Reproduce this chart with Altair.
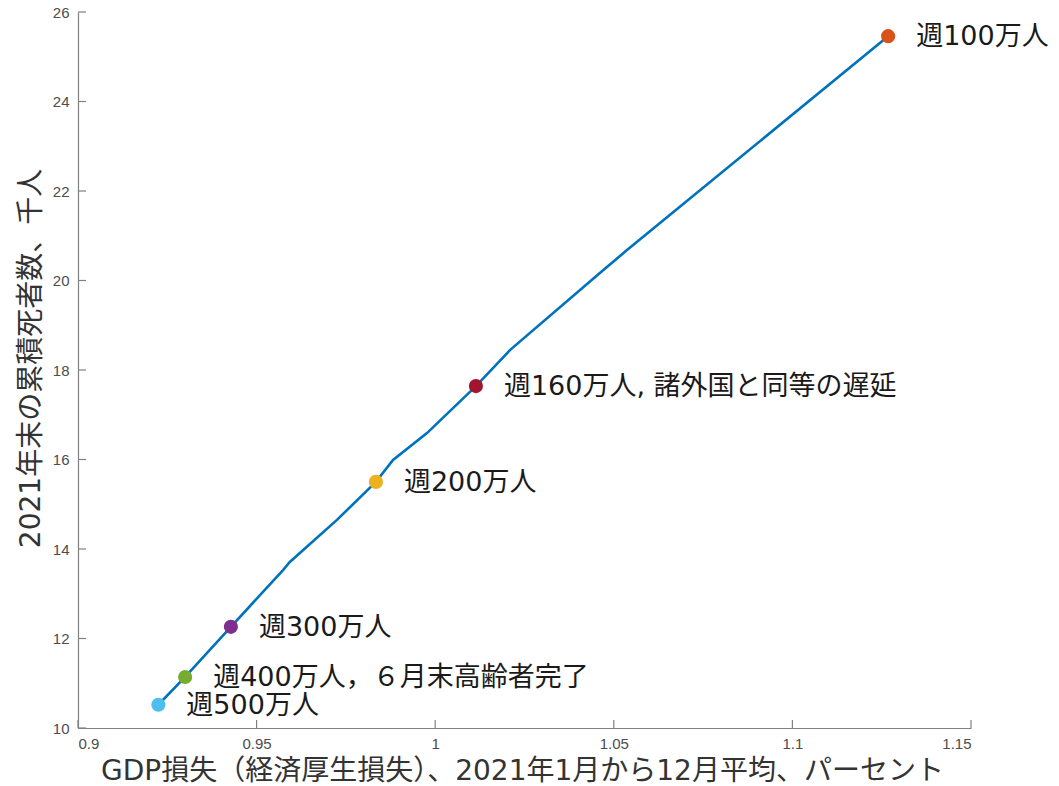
import altair as alt
import pandas as pd

# curve (GDP loss %, cumulative deaths thousand)
curve_x = [0.9225, 0.9300, 0.9428, 0.9574, 0.9593, 0.9725, 0.9834, 0.9882, 0.9977, 1.0114, 1.0210, 1.0461, 1.0537, 1.1268]
curve_y = [10.52, 11.14, 12.26, 13.53, 13.71, 14.65, 15.50, 15.99, 16.59, 17.64, 18.45, 20.17, 20.68, 25.46]

# marked scenarios
pt_labels = ["週500万人", "週400万人，６月末高齢者完了", "週300万人", "週200万人", "週160万人, 諸外国と同等の遅延", "週100万人"]
pt_x = [0.9225, 0.9300, 0.9428, 0.9834, 1.0114, 1.1268]
pt_y = [10.52, 11.14, 12.26, 15.50, 17.64, 25.46]
pt_colors = ["#4DBEEE", "#77AC30", "#7E2F8E", "#EDB120", "#A2142F", "#D95319"]

x_ticks = [0.9, 0.95, 1.0, 1.05, 1.1, 1.15]
y_ticks = [10, 12, 14, 16, 18, 20, 22, 24, 26]

W, H = 893, 716
FONT = "DejaVu Sans, Noto Sans CJK JP"

curve = pd.DataFrame({"x": curve_x, "y": curve_y, "o": list(range(len(curve_x)))})
pts = pd.DataFrame({"x": pt_x, "y": pt_y, "label": pt_labels, "color": pt_colors})
xt = pd.DataFrame({"v": x_ticks})
yt = pd.DataFrame({"v": y_ticks})

xs = alt.Scale(domain=[0.9, 1.15], nice=False, zero=False)
ys = alt.Scale(domain=[10, 26], nice=False, zero=False)

xaxis = alt.Axis(values=x_ticks, format="~g", ticks=False, grid=False,
                 domainColor="#808080", domainWidth=1.2,
                 labelFont="Liberation Sans", labelFontSize=15, labelColor="#4d4d4d",
                 labelPadding=8,
                 title="GDP損失（経済厚生損失）、2021年1月から12月平均、パーセント",
                 titleFont=FONT, titleFontSize=28, titleFontWeight="normal",
                 titleColor="#333333", titleX=444, titleY=43, titleBaseline="middle")
yaxis = alt.Axis(values=y_ticks, ticks=False, grid=False,
                 domainColor="#808080", domainWidth=1.2,
                 labelFont="Liberation Sans", labelFontSize=15, labelColor="#4d4d4d",
                 labelPadding=9,
                 title="2021年末の累積死者数、千人",
                 titleFont=FONT, titleFontSize=28, titleFontWeight="normal",
                 titleColor="#333333", titleAngle=-90, titleX=-47, titleY=346,
                 titleAlign="center", titleBaseline="middle")

base_line = alt.Chart(curve).mark_line(color="#0072BD", strokeWidth=2.6).encode(
    x=alt.X("x:Q", scale=xs, axis=xaxis),
    y=alt.Y("y:Q", scale=ys, axis=yaxis),
    order="o:Q",
)

xtick_rules = alt.Chart(xt).mark_rule(color="#808080", strokeWidth=1.2).encode(
    x=alt.X("v:Q", scale=xs), y=alt.value(H), y2=alt.value(H - 8))
ytick_rules = alt.Chart(yt).mark_rule(color="#808080", strokeWidth=1.2).encode(
    y=alt.Y("v:Q", scale=ys), x=alt.value(0), x2=alt.value(8))

dots = alt.Chart(pts).mark_circle(size=200, opacity=1).encode(
    x=alt.X("x:Q", scale=xs),
    y=alt.Y("y:Q", scale=ys),
    color=alt.Color("color:N", scale=None),
)

labels = alt.Chart(pts).mark_text(
    align="left", baseline="middle", dx=28, dy=1,
    font=FONT, fontSize=27, color="#1a1a1a"
).encode(
    x=alt.X("x:Q", scale=xs),
    y=alt.Y("y:Q", scale=ys),
    text="label:N",
)

chart = alt.layer(xtick_rules, ytick_rules, base_line, dots, labels).properties(
    width=W, height=H,
    background="white",
    autosize=alt.AutoSizeParams(type="none"),
    padding={"left": 78, "top": 12, "right": 88, "bottom": 58},
).configure_view(stroke=None, strokeWidth=0)

chart.save("out.html", embed_options={"renderer": "svg", "actions": False})
